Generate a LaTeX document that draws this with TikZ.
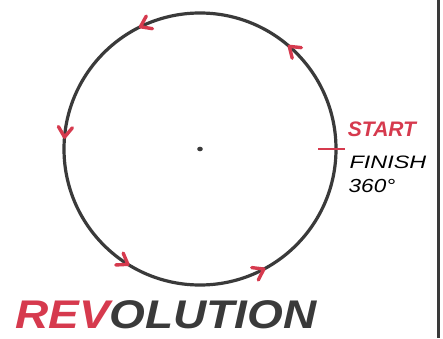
\documentclass[tikz,border=0pt]{standalone}
\usepackage{fontspec}
\setmainfont{Liberation Sans}
\definecolor{penred}{RGB}{214,58,78}
\definecolor{pengrey}{RGB}{58,58,58}
\tikzset{
  ring/.style={circle, draw=pengrey, line width=3.2pt, minimum size=272pt, inner sep=0pt, outer sep=0pt},
  barb/.style={draw=penred, line width=3.4pt, line cap=round, line join=round},
  redtick/.style={draw=penred, line width=2.6pt},
  border/.style={draw=pengrey, line width=3pt},
  redlabel/.style={text=penred, font=\bfseries\itshape\fontsize{21}{21}\selectfont, inner sep=0pt},
  blacklabel/.style={text=black, font=\itshape\fontsize{18}{18}\selectfont, inner sep=0pt},
  title/.style={font=\bfseries\itshape\fontsize{40}{40}\selectfont, inner sep=0pt, anchor=base west}
}
\begin{document}
\begin{tikzpicture}[x=1pt,y=1pt]
\useasboundingbox (0,0) rectangle (443,338);
\fill[white] (0,0) rectangle (443,338);
\coordinate (c) at (200,189);
\node[ring] (circ) at (c) {};
\fill[pengrey] (c) ellipse (2.8pt and 2.3pt);
\node[inner sep=0pt] (dot) at (c) {};
% arrowheads (counterclockwise)
\foreach \a in {49,116,175,238,298}{
  \draw[barb, shift={(circ.\a)}, rotate=\a] (-7,-10) -- (0,0) -- (7,-10);
}
% start tick
\coordinate (s1) at (318,189);
\coordinate (s2) at (345,189);
\draw[redtick] (s1) -- (s2);
% right border
\coordinate (bt) at (438,338);
\coordinate (bb) at (438,0);
\draw[border] (bt) -- (bb);
% labels
\node[redlabel] (start) at (382,209) {START};
\node[blacklabel] (finish) at (388,176) {\scalebox{1.3}[1]{FINISH}};
\node[blacklabel] (deg) at (372,152) {\scalebox{1.25}[1.05]{360°}};
\node[title] (rev) at (15,10) {\scalebox{1.15}[1]{\textcolor{penred}{REV}\textcolor{pengrey}{OLUTION}}};
\end{tikzpicture}
\end{document}
